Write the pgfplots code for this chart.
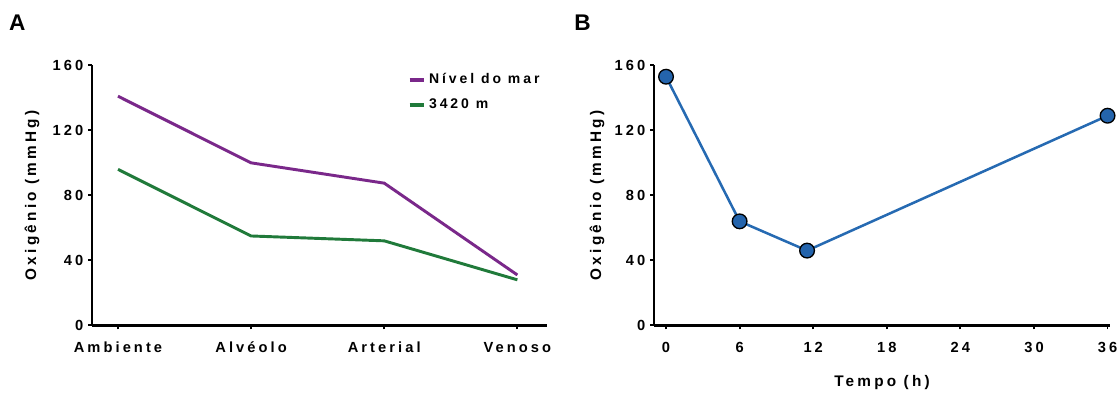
\documentclass[border=0pt]{standalone}
\usepackage{fontspec}
\setmainfont{Liberation Sans}[LetterSpace=21]
\newfontfamily\plainsans{Liberation Sans}
\usepackage{pgfplots}
\pgfplotsset{compat=1.18}
\definecolor{cpurple}{RGB}{122,40,138}
\definecolor{cgreen}{RGB}{32,122,58}
\definecolor{cblue}{RGB}{38,106,178}
\definecolor{cbluefill}{RGB}{36,100,172}
\pgfplotsset{
  panel/.style={
    scale only axis,
    axis x line*=bottom,
    axis y line*=left,
    axis line style={line width=2.2pt,-},
    tick style={line width=1.4pt,black},
    major tick length=3pt,
    tick align=outside,
    ymin=0, ymax=160,
    ytick={0,40,80,120,160},
    /pgf/number format/assume math mode=true,
    ticklabel style={font=\fontsize{11}{13}\selectfont\bfseries},
    xticklabel style={yshift=-6pt},
    label style={font=\fontsize{11.5}{13}\selectfont\bfseries},
    clip=false,
  }
}
\begin{document}
\begin{tikzpicture}
\useasboundingbox (0,0) rectangle (840pt,-295.5pt);
\node[font=\plainsans\fontsize{17}{18}\selectfont\bfseries] at (13pt,-17pt) {A};
\node[font=\plainsans\fontsize{17}{18}\selectfont\bfseries] at (437pt,-17pt) {B};
\begin{axis}[panel,
  at={(69pt,-244pt)}, anchor=south west,
  width=341pt, height=195pt,
  xmin=-0.195, xmax=3.22,
  xtick={0,1,2,3},
  xticklabels={Ambiente,Alvéolo,Arterial,Venoso},
  ylabel={Oxigênio (mmHg)},
  ylabel style={at={(axis description cs:-0.132,0.5)},anchor=center},
  legend style={draw=none,fill=none,at={(0.685,0.99)},anchor=north west,
    font=\fontsize{10.5}{12}\selectfont\bfseries,row sep=6pt},
  legend cell align=left,
  legend image code/.code={\draw[#1,line width=3pt] (0pt,0pt) -- (11pt,0pt);},
]
\addplot[cpurple,line width=2.2pt] coordinates {(0,141) (1,100) (2,87.5) (3,31)};
\addlegendentry{Nível do mar}
\addplot[cgreen,line width=2.2pt] coordinates {(0,96) (1,55) (2,52) (3,28)};
\addlegendentry{3420 m}
\end{axis}
\begin{axis}[panel,
  at={(490.5pt,-244pt)}, anchor=south west,
  width=342pt, height=195pt,
  xmin=-0.98, xmax=36.2,
  xtick={0,6,12,18,24,30,36},
  ylabel={Oxigênio (mmHg)},
  ylabel style={at={(axis description cs:-0.125,0.5)},anchor=center},
  xlabel={Tempo (h)},
  xlabel style={at={(axis description cs:0.5,-0.22)},anchor=center},
]
\addplot[cblue,line width=1.9pt,mark=*,mark size=5.5pt,
  mark options={fill=cbluefill,draw=black,line width=1pt}]
  coordinates {(0,153) (6,64) (11.5,46) (36,129)};
\end{axis}
\end{tikzpicture}
\end{document}
